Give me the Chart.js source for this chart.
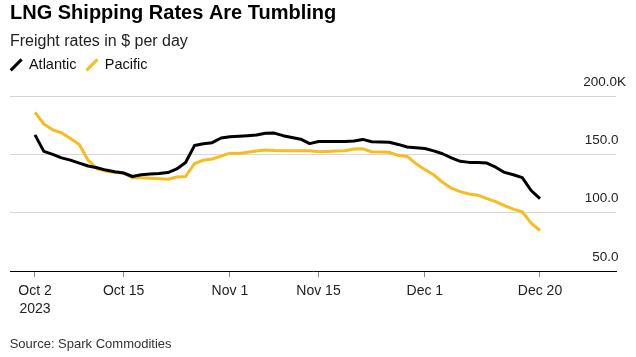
<!DOCTYPE html>
<html><head><meta charset="utf-8">
<script src="https://cdn.jsdelivr.net/npm/chart.js@4.4.0/dist/chart.umd.min.js"></script>
<style>html,body{margin:0;padding:0;background:#fff;}canvas{display:block;}</style>
</head><body>
<canvas id="c" width="636" height="357"></canvas>
<script>
// Business days, Oct 2 - Dec 20 2023
const days = [
  'Oct 2','Oct 3','Oct 4','Oct 5','Oct 6','Oct 9','Oct 10','Oct 11','Oct 12','Oct 13',
  'Oct 16','Oct 17','Oct 18','Oct 19','Oct 20','Oct 23','Oct 24','Oct 25','Oct 26','Oct 27',
  'Oct 30','Oct 31','Nov 1','Nov 2','Nov 3','Nov 6','Nov 7','Nov 8','Nov 9','Nov 10',
  'Nov 13','Nov 14','Nov 15','Nov 16','Nov 17','Nov 20','Nov 21','Nov 22','Nov 23','Nov 24',
  'Nov 27','Nov 28','Nov 29','Nov 30','Dec 1','Dec 4','Dec 5','Dec 6','Dec 7','Dec 8',
  'Dec 11','Dec 12','Dec 13','Dec 14','Dec 15','Dec 18','Dec 19','Dec 20'
];
// Freight rates, thousand $ per day
const atlantic = [
  166.7,152.5,150,147,145,142.5,140,138.5,136.5,135,
  134,131,132.5,133.2,133.5,134.4,137.5,143,157.5,159,
  160,164,165,165.6,166,166.5,168,168.2,166,164.5,
  163,159.2,161,161.1,161.1,161.1,161.5,162.8,160.8,160.5,
  160.3,158.5,156.3,155.7,155,153,150.5,147,144,143.1,
  143.1,142.5,139,134.5,132.5,130,119,112
];
const pacific = [
  186,176,171,168.5,163.5,158.5,145,137.5,135.6,134.5,
  133.9,130,130,129.5,129,128.6,130.6,131,142,145,
  146,148.5,151,150.8,151.8,152.8,153.8,153.3,153.1,153.1,
  153.1,153.1,152.2,152.5,152.8,153.1,154.5,154.7,152.2,152,
  151.7,149,148.2,142,137,132.5,126,121,118,116,
  115,112,109.5,106,103,100.8,91,84.7
];
const seriesNames = ['Atlantic','Pacific'];
const tickDays = ['Oct 2','Oct 16','Nov 1','Nov 15','Dec 1','Dec 20'];
const tickLabels = [['Oct 2','2023'],'Oct 15','Nov 1','Nov 15','Dec 1','Dec 20'];
const yTicks = [50,100,150,200];
const yLabels = ['50.0\u2007','100.0\u2007','150.0\u2007','200.0K'];
const titleText = 'LNG Shipping Rates Are Tumbling';
const subtitleText = 'Freight rates in $ per day';
const sourceText = 'Source: Spark Commodities';

const FONT = "'Liberation Sans', Arial, sans-serif";

const legendNudge = {
  id: 'legendNudge',
  afterLayout(chart) {
    const lg = chart.legend;
    const dx = 0.7 - lg.left, dy = 47.6 - lg.top;
    lg.left += dx; lg.right += dx; lg.top += dy; lg.bottom += dy;
  }
};
const sourceNote = {
  id: 'sourceNote',
  afterDraw(chart) {
    const ctx = chart.ctx;
    ctx.save();
    ctx.font = '13px ' + FONT;
    ctx.fillStyle = '#333';
    ctx.textBaseline = 'alphabetic';
    ctx.textAlign = 'left';
    ctx.fillText(sourceText, 9.7, 348);
    ctx.restore();
  }
};

new Chart(document.getElementById('c'), {
  type: 'line',
  data: {
    datasets: [
      { label: seriesNames[0], data: atlantic.map((v, i) => ({x: i, y: v})),
        borderColor: '#000000', backgroundColor: '#000000', borderWidth: 3,
        pointRadius: 0, pointHoverRadius: 0, pointStyle: 'line', pointRotation: -45,
        tension: 0, borderJoinStyle: 'round' },
      { label: seriesNames[1], data: pacific.map((v, i) => ({x: i, y: v})),
        borderColor: '#f5bd1f', backgroundColor: '#f5bd1f', borderWidth: 3,
        pointRadius: 0, pointHoverRadius: 0, pointStyle: 'line', pointRotation: -45,
        tension: 0, borderJoinStyle: 'round' }
    ]
  },
  options: {
    responsive: false,
    animation: false,
    events: [],
    layout: { padding: { left: 10, right: 0, top: 0, bottom: 33.6 } },
    plugins: {
      title: { display: true, text: titleText, align: 'start', color: '#000',
        font: { family: FONT, size: 20, weight: 'bold' }, padding: { top: 1, bottom: 0 } },
      subtitle: { display: true, text: subtitleText, align: 'start', color: '#222',
        font: { family: FONT, size: 16 }, padding: { top: 6.8, bottom: 10.5 } },
      legend: { display: true, align: 'start',
        labels: { usePointStyle: true, boxWidth: 11, boxHeight: 11, padding: 10,
          color: '#111', font: { family: FONT, size: 14.5 } } },
      tooltip: { enabled: false }
    },
    scales: {
      x: {
        type: 'linear', min: -2.82, max: 65.58,
        afterBuildTicks: (s) => { s.ticks = tickDays.map(d => ({ value: days.indexOf(d) })); },
        grid: { display: true, drawOnChartArea: false, drawTicks: true, tickLength: 6,
          color: '#8a8a8a', tickColor: '#8a8a8a', lineWidth: 1 },
        border: { display: true, color: '#000', width: 1 },
        ticks: { autoSkip: false, maxRotation: 0, padding: 5, color: '#222',
          font: { family: FONT, size: 14, lineHeight: 1.3 },
          callback: (v, i) => tickLabels[i] }
      },
      y: {
        position: 'right', min: 50, max: 200,
        afterBuildTicks: (s) => { s.ticks = yTicks.map(v => ({ value: v })); },
        grid: { drawTicks: false, lineWidth: 1,
          color: (c) => (c.tick && c.tick.value === 50) ? 'rgba(0,0,0,0)' : '#d6d6d6' },
        border: { display: false },
        ticks: { mirror: true, padding: 10, labelOffset: -14, color: '#222',
          font: { family: FONT, size: 13.5 },
          callback: (v) => yLabels[yTicks.indexOf(v)] }
      }
    }
  },
  plugins: [legendNudge, sourceNote]
});
</script>
</body></html>
